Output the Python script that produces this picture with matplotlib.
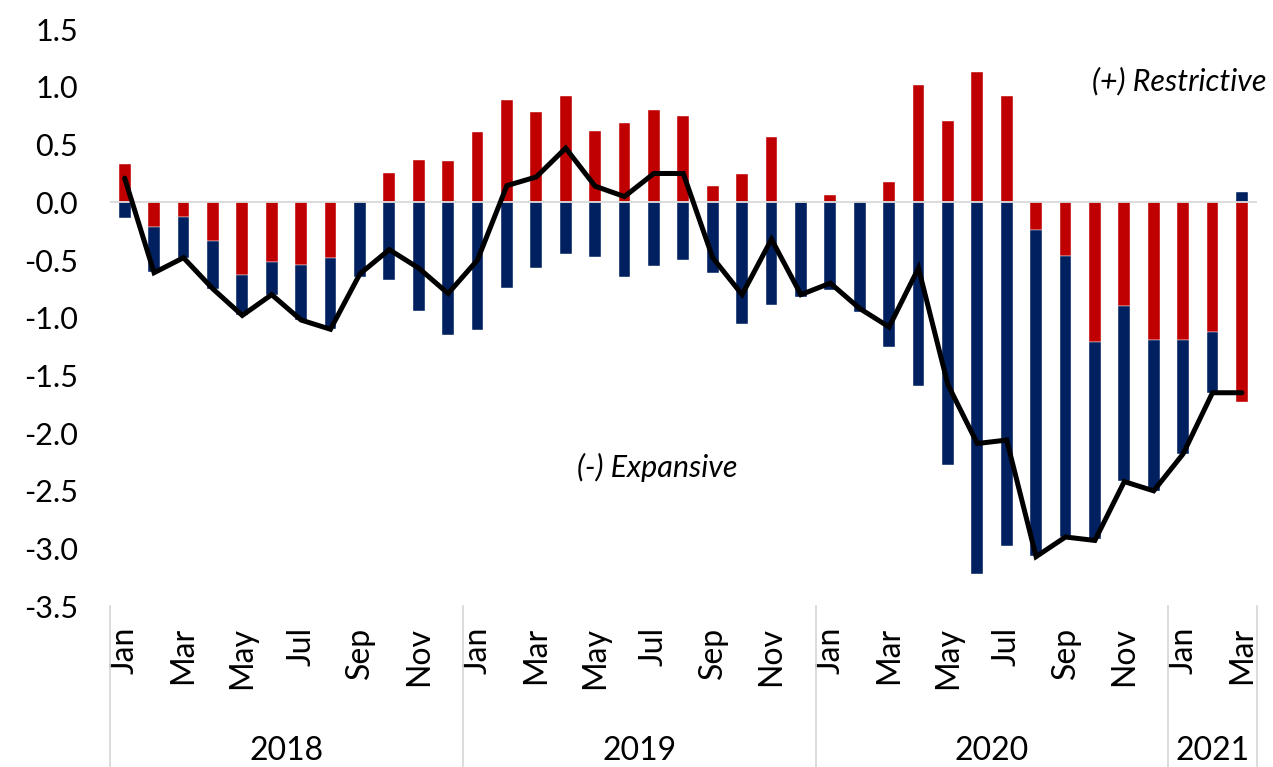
import numpy as np
import matplotlib
matplotlib.use('Agg')
import matplotlib.pyplot as plt
import matplotlib.transforms as mtransforms

plt.rcParams['font.family'] = ['Lato', 'DejaVu Sans']
plt.rcParams['axes.unicode_minus'] = False

# months Jan 2018 .. Mar 2021
month_names = ['Jan', 'Feb', 'Mar', 'Apr', 'May', 'Jun',
               'Jul', 'Aug', 'Sep', 'Oct', 'Nov', 'Dec']
years = ['2018', '2019', '2020', '2021']
months_per_year = [12, 12, 12, 3]

# red component (stacked first, next to zero)
red = [0.335, -0.211, -0.124, -0.338, -0.633, -0.514, -0.540, -0.480, 0.012, 0.254, 0.364, 0.358,
       0.613, 0.890, 0.780, 0.925, 0.618, 0.691, 0.798, 0.751, 0.139, 0.249, 0.569, 0.012,
       0.061, 0.014, 0.179, 1.017, 0.702, 1.127, 0.922, -0.240, -0.465, -1.211, -0.896, -1.194,
       -1.194, -1.124, -1.733]
# navy component
navy = [-0.133, -0.390, -0.356, -0.413, -0.344, -0.289, -0.480, -0.620, -0.645, -0.673, -0.939, -1.150,
        -1.107, -0.746, -0.569, -0.448, -0.477, -0.647, -0.549, -0.503, -0.616, -1.055, -0.890, -0.818,
        -0.757, -0.951, -1.255, -1.590, -2.274, -3.221, -2.981, -2.825, -2.438, -1.709, -1.519, -1.308,
        -0.987, -0.526, 0.090]
# total (black line)
total = [0.21, -0.61, -0.48, -0.75, -0.98, -0.80, -1.02, -1.10, -0.62, -0.41, -0.57, -0.79,
         -0.50, 0.145, 0.22, 0.47, 0.14, 0.05, 0.25, 0.25, -0.48, -0.80, -0.32, -0.80,
         -0.70, -0.92, -1.08, -0.57, -1.58, -2.09, -2.06, -3.07, -2.90, -2.93, -2.42, -2.50,
         -2.18, -1.65, -1.65]

red = np.array(red)
navy = np.array(navy)
n = len(red)
x = np.arange(n)
labels = [month_names[i % 12] for i in range(n)]

fig = plt.figure(figsize=(12.73, 7.67), dpi=100)
ax = fig.add_axes([0.0864, 0.2096, 0.9007, 0.7523])

RED = '#C00000'
NAVY = '#002060'
GREY = '#D9D9D9'

w = 0.40
ax.bar(x, red, width=w, color=RED, edgecolor='white', linewidth=0.3, zorder=2)
navy_bottom = np.where(np.sign(navy) == np.sign(red), red, 0.0)
ax.bar(x, navy, width=w, bottom=navy_bottom, color=NAVY, edgecolor='white', linewidth=0.3, zorder=2)
ax.axhline(0, color=GREY, lw=1.3, zorder=3)
ax.plot(x, total, color='black', lw=3.6, zorder=4, solid_joinstyle='miter', solid_capstyle='round')

ax.set_xlim(-0.5, n - 0.5)
ax.set_ylim(-3.5, 1.5)
yt = np.arange(-3.5, 1.51, 0.5)
ax.set_yticks(yt)
ax.set_yticklabels([f'{v:.1f}' for v in yt], fontsize=22)
ax.tick_params(axis='y', length=0, pad=23)

tick_pos = x[::2]
ax.set_xticks(tick_pos)
ax.set_xticklabels([labels[i] for i in tick_pos], rotation=90, fontsize=23, va='top', ha='center')
ax.tick_params(axis='x', length=0, pad=15)

for s in ax.spines.values():
    s.set_visible(False)

# year group separators and labels
trans = mtransforms.blended_transform_factory(ax.transData, ax.transAxes)
edges = np.concatenate([[0], np.cumsum(months_per_year)]) - 0.5
for e in edges:
    ax.plot([e, e], [0, -0.28], color=GREY, lw=1.3, transform=trans, clip_on=False)
for i, yr in enumerate(years):
    ax.text((edges[i] + edges[i + 1]) / 2, -0.251, yr, transform=trans,
            ha='center', va='center', fontsize=23)

ax.text(38.85, 1.05, '(+) Restrictive', style='italic', fontsize=22, ha='right', va='center')
ax.text(18.1, -2.30, '(-) Expansive', style='italic', fontsize=22, ha='center', va='center')

fig.savefig('out.png', dpi=100)
